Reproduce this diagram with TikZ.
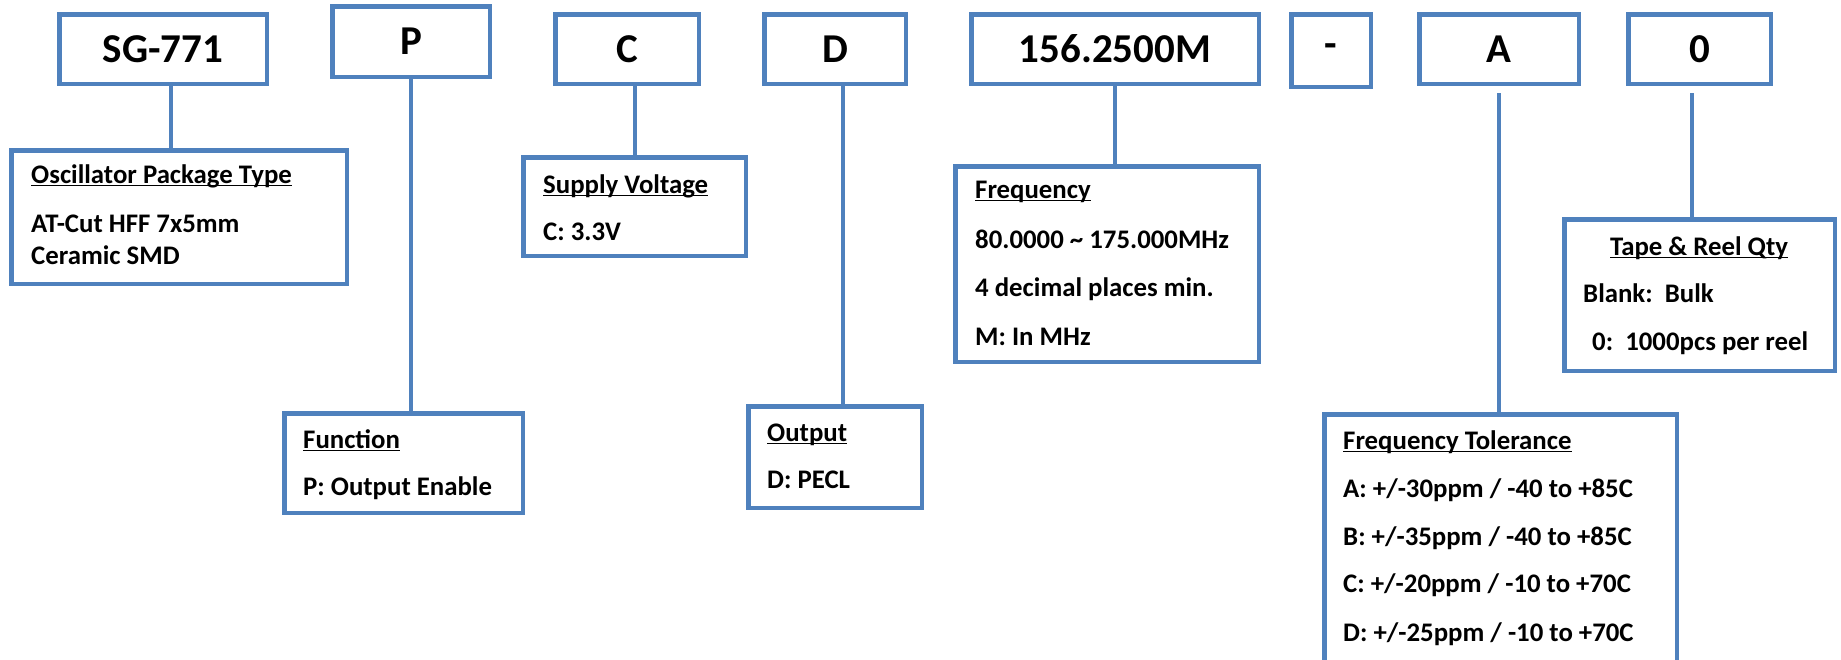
\documentclass[tikz,border=0pt]{standalone}
\usepackage{fontspec}
\setmainfont{Carlito}
\definecolor{bl}{HTML}{4F81BD}
\newcommand\myul[1]{\setbox0\hbox{#1}\rlap{\rule[-0.13em]{\wd0}{0.07em}}\box0}
\begin{document}
\begin{tikzpicture}[x=1pt,y=-1pt,
  box/.style={draw=bl, line width=4.5pt, inner sep=0pt, fill=white},
  conn/.style={draw=bl, line width=4.5pt},
  big/.style={font=\fontsize{41}{41}\selectfont\bfseries},
  lbl/.style={font=\fontsize{26.8}{26.8}\selectfont\bfseries, inner sep=0pt, anchor=base west},
  lblc/.style={font=\fontsize{26.8}{26.8}\selectfont\bfseries, inner sep=0pt, anchor=base}]
\useasboundingbox (0,0) rectangle (1841,659);
\clip (0,0) rectangle (1841,659);
\fill[white] (0,0) rectangle (1841,659);
% top row
\node[box,big,minimum width=207.5pt,minimum height=69.5pt] (sg) at (163,49) {SG-771};
\node[box,big,minimum width=157.5pt,minimum height=70.5pt] (p) at (411,41.5) {P};
\node[box,big,minimum width=143.5pt,minimum height=69.5pt] (c) at (627,49) {C};
\node[box,big,minimum width=141.5pt,minimum height=69.5pt] (d) at (835,49) {D};
\node[box,big,minimum width=287.5pt,minimum height=69.5pt] (f) at (1115,49) {156.2500M};
\node[box,big,minimum width=79.5pt,minimum height=72.5pt] (dash) at (1331,50.5) {-};
\node[box,big,minimum width=159.5pt,minimum height=69.5pt] (a) at (1499,49) {A};
\node[box,big,minimum width=142.5pt,minimum height=69.5pt] (z) at (1699.5,49) {0};
% lower boxes
\node[box,minimum width=335.5pt,minimum height=133.5pt] (osc) at (179,217) {};
\node[box,minimum width=238.5pt,minimum height=99.5pt] (fun) at (403.5,463) {};
\node[box,minimum width=222.5pt,minimum height=98.5pt] (sup) at (634.5,206.5) {};
\node[box,minimum width=173.5pt,minimum height=101.5pt] (out) at (835,457) {};
\node[box,minimum width=303.5pt,minimum height=195.5pt] (frq) at (1107,264) {};
\node[box,minimum width=352.5pt,minimum height=295.5pt] (tol) at (1500.5,562) {};
\node[box,minimum width=270.5pt,minimum height=151.5pt] (tape) at (1699.5,295) {};
% connectors
\draw[conn] ([xshift=8pt]sg.south) -- ([xshift=8pt]sg.south |- osc.north);
\draw[conn] (p.south) -- (p.south |- fun.north);
\draw[conn] ([xshift=8pt]c.south) -- ([xshift=8pt]c.south |- sup.north);
\draw[conn] ([xshift=8pt]d.south) -- ([xshift=8pt]d.south |- out.north);
\draw[conn] (f.south) -- (f.south |- frq.north);
\draw[conn] ([yshift=-7pt]a.south) -- (a.south |- tol.north);
\draw[conn] ([xshift=-7.5pt,yshift=-7pt]z.south) -- ([xshift=-7.5pt]z.south |- tape.north);
% texts
\node[lbl] (osc1) at (31,183) {\myul{Oscillator Package Type}};
\node[lbl] (osc2) at (31,232) {AT-Cut HFF 7x5mm};
\node[lbl] (osc3) at (31,264) {Ceramic SMD};
\node[lbl] (fun1) at (303,448) {\myul{Function}};
\node[lbl] (fun2) at (303,495) {P: Output Enable};
\node[lbl] (sup1) at (543,193) {\myul{Supply Voltage}};
\node[lbl] (sup2) at (543,240) {C: 3.3V};
\node[lbl] (out1) at (767,441) {\myul{Output}};
\node[lbl] (out2) at (767,488) {D: PECL};
\node[lbl] (frq1) at (975,198) {\myul{Frequency}};
\node[lbl] (frq2) at (975,248) {80.0000 \char`\~\ 175.000MHz};
\node[lbl] (frq3) at (975,296) {4 decimal places min.};
\node[lbl] (frq4) at (975,345) {M: In MHz};
\node[lblc] (tape1) at (1699,255) {\myul{Tape \& Reel Qty}};
\node[lbl] (tape2) at (1583,302) {Blank:\ \ Bulk};
\node[lbl] (tape3) at (1592,350) {0:\ \ 1000pcs per reel};
\node[lbl] (tol1) at (1343,449) {\myul{Frequency Tolerance}};
\node[lbl] (tol2) at (1343,497) {A: +/-30ppm / -40 to +85C};
\node[lbl] (tol3) at (1343,545) {B: +/-35ppm / -40 to +85C};
\node[lbl] (tol4) at (1343,592) {C: +/-20ppm / -10 to +70C};
\node[lbl] (tol5) at (1343,641) {D: +/-25ppm / -10 to +70C};
\end{tikzpicture}
\end{document}
